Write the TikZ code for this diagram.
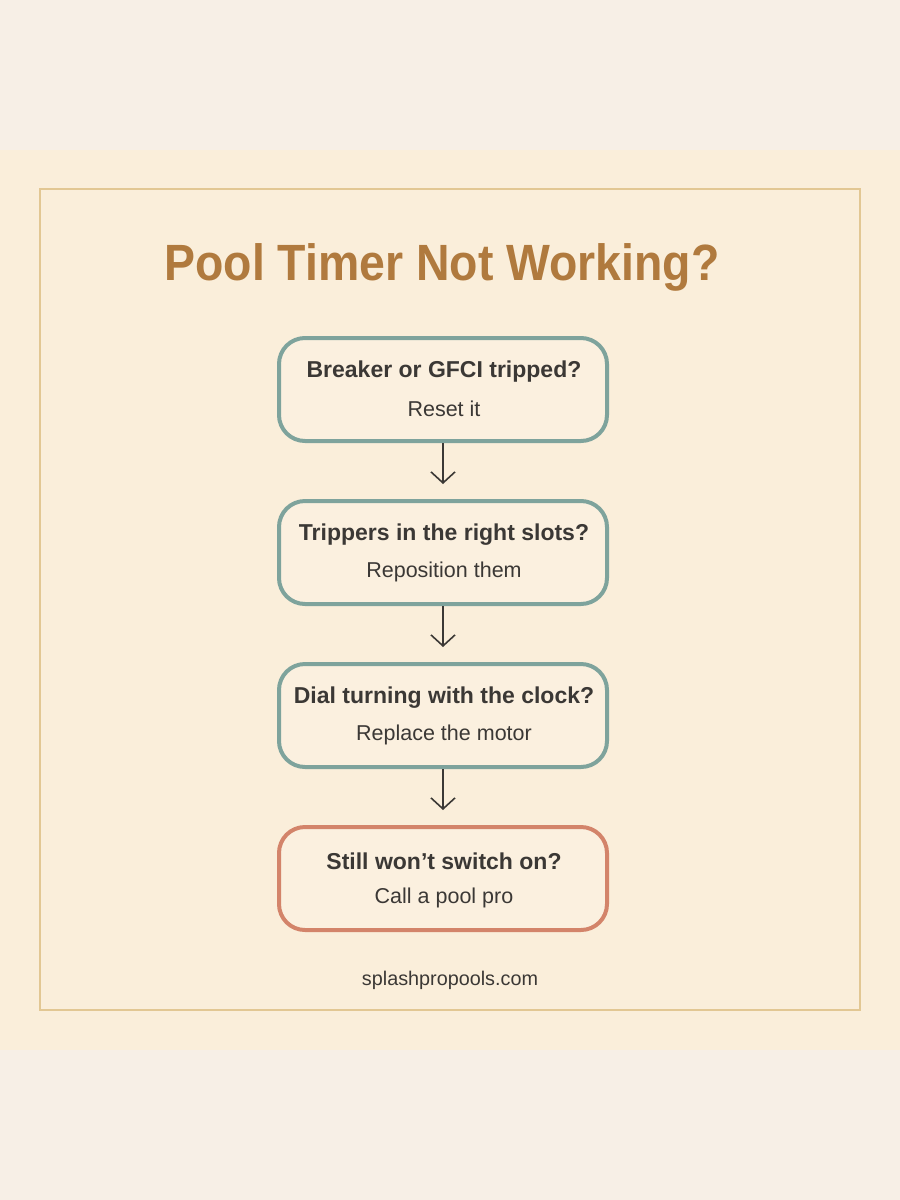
\documentclass[tikz,border=0pt]{standalone}
\usepackage{fontspec}
\setmainfont{Liberation Sans}
\usetikzlibrary{arrows.meta}
\definecolor{pagebg}{HTML}{F7EFE6}
\definecolor{bandbg}{HTML}{FAEEDA}
\definecolor{framec}{HTML}{E2C793}
\definecolor{titlec}{HTML}{B07A3E}
\definecolor{tealc}{HTML}{7EA39C}
\definecolor{coralc}{HTML}{D3846A}
\definecolor{textc}{HTML}{3B3835}
\definecolor{boxfill}{HTML}{FBF0DF}
\tikzset{
  stepbox/.style={draw=tealc, line width=4pt, rounded corners=26pt, fill=boxfill,
    minimum width=328pt, minimum height=103pt, inner sep=0pt},
  endbox/.style={stepbox, draw=coralc},
  qtext/.style={text=textc, font=\fontsize{23}{27}\selectfont\bfseries},
  atext/.style={text=textc, font=\fontsize{21.5}{25}\selectfont},
  conn/.style={draw=textc, line width=1.6pt, -{Straight Barb[length=11pt,width=24pt,line width=1.6pt]}}
}
\begin{document}
\begin{tikzpicture}[x=1pt,y=-1pt]
\useasboundingbox (0,0) rectangle (900,1200);
\fill[pagebg] (0,0) rectangle (900,1200);
\fill[bandbg] (0,150) rectangle (900,1050);
\draw[framec, line width=1.6pt] (40,189) rectangle (860,1010);
\node[text=titlec, font=\fontsize{51}{56}\selectfont\bfseries] (title) at (442,267) {\scalebox{0.91}[1]{Pool Timer Not Working?}};

\node[stepbox] (b1) at (443,389.5) {};
\node[stepbox] (b2) at (443,552.5) {};
\node[stepbox] (b3) at (443,715.5) {};
\node[endbox] (b4) at (443,878.5) {};

\node[qtext] (q1) at (444,372) {Breaker or GFCI tripped?};
\node[atext] (a1) at (444,409) {Reset it};
\node[qtext] (q2) at (444,535) {Trippers in the right slots?};
\node[atext] (a2) at (444,572) {Reposition them};
\node[qtext] (q3) at (444,698) {Dial turning with the clock?};
\node[atext] (a3) at (444,735) {Replace the motor};
\node[qtext] (q4) at (444,861) {Still won’t switch on?};
\node[atext] (a4) at (444,898) {Call a pool pro};

\coordinate (e1) at (443,484);
\coordinate (e2) at (443,647);
\coordinate (e3) at (443,810);
\draw[conn] (b1.south) -- (e1);
\draw[conn] (b2.south) -- (e2);
\draw[conn] (b3.south) -- (e3);

\node[text=textc, font=\fontsize{19.8}{23}\selectfont] (foot) at (450,980) {splashpropools.com};
\end{tikzpicture}
\end{document}
